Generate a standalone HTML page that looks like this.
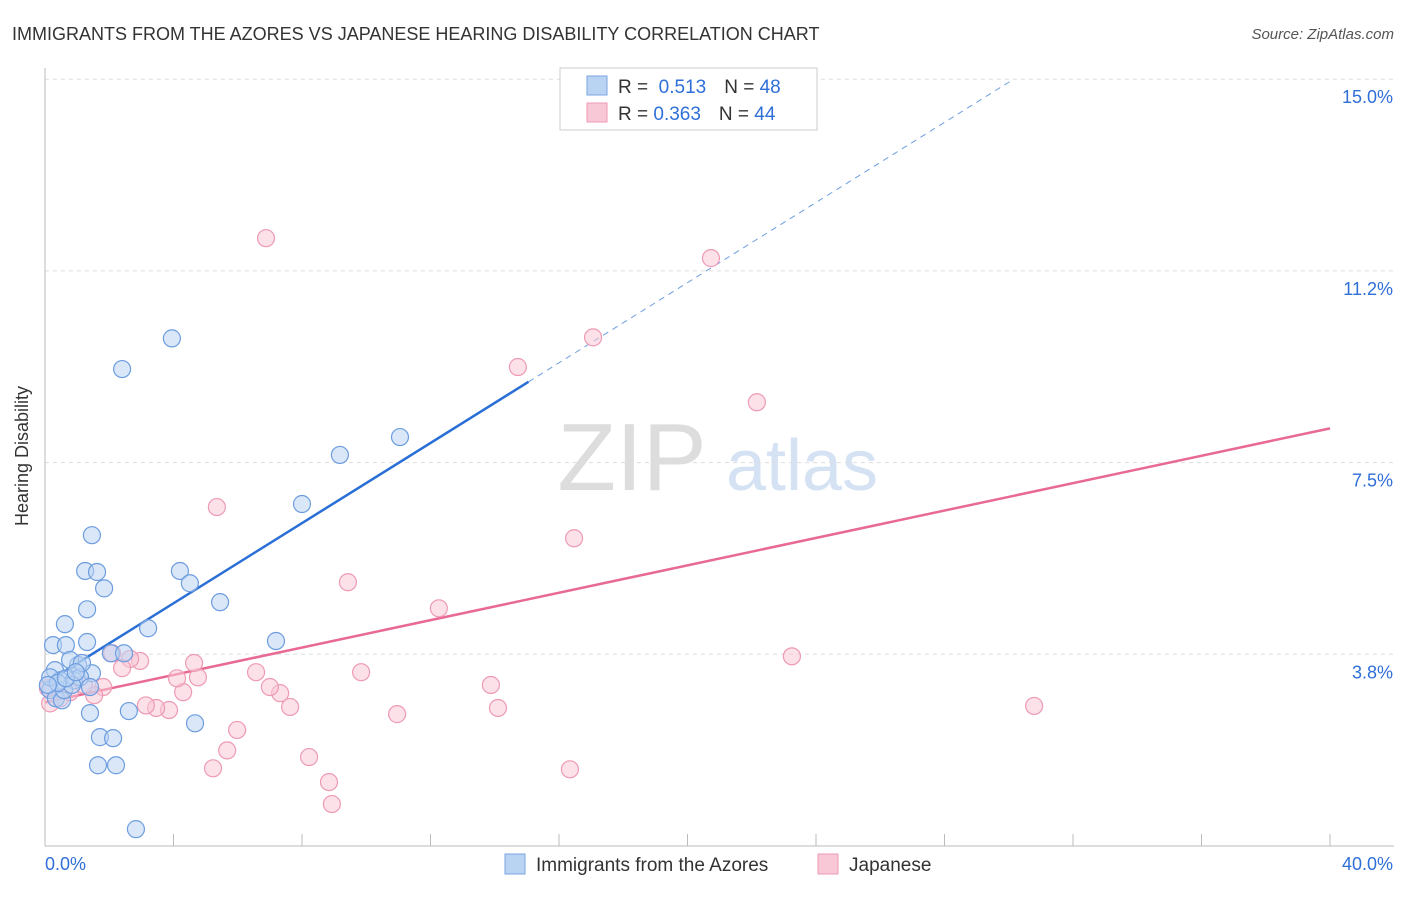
<!DOCTYPE html>
<html><head><meta charset="utf-8"><style>
body{margin:0;background:#fff;font-family:"Liberation Sans",sans-serif}
svg text{font-family:"Liberation Sans",sans-serif}
</style></head><body>
<svg id="chart" width="1406" height="892" viewBox="0 0 1406 892">
<text x="12" y="40" font-size="18" fill="#333">IMMIGRANTS FROM THE AZORES VS JAPANESE HEARING DISABILITY CORRELATION CHART</text>
<text x="1394" y="39" font-size="15" fill="#555" font-style="italic" text-anchor="end">Source: ZipAtlas.com</text>
<text x="28" y="456" font-size="18" fill="#333" text-anchor="middle" transform="rotate(-90 28 456)">Hearing Disability</text>
<g>
<text x="632" y="490" font-size="96" fill="#ddd" font-family="Liberation Serif,serif" text-anchor="middle">ZIP</text>
<text x="802" y="490" font-size="72" fill="#d4e2f4" text-anchor="middle">atlas</text>
</g>
<g id="grid"></g><g id="axes"></g><g id="trend"></g><g id="pts"></g>
<g>
<rect x="560" y="68" width="257" height="62" fill="#fff" stroke="#ccc"/>
<rect x="587" y="76" width="20" height="19" fill="#b9d3f3" stroke="#7ba6e0"/>
<rect x="587" y="103" width="20" height="19" fill="#f9c8d6" stroke="#ee9ab5"/>
<text x="618" y="93" font-size="19" fill="#333">R = <tspan fill="#2f6fd8">&#160;0.513</tspan><tspan dx="18">N = </tspan><tspan fill="#2f6fd8">48</tspan></text>
<text x="618" y="120" font-size="19" fill="#333">R = <tspan fill="#2f6fd8">0.363</tspan><tspan dx="18">N = </tspan><tspan fill="#2f6fd8">44</tspan></text>
</g>
<g>
<rect x="505" y="854" width="20" height="20" fill="#b9d3f3" stroke="#7ba6e0"/>
<text x="536" y="871" font-size="19" fill="#333">Immigrants from the Azores</text>
<rect x="818" y="854" width="20" height="20" fill="#f9c8d6" stroke="#ee9ab5"/>
<text x="849" y="871" font-size="19" fill="#333">Japanese</text>
</g>
</svg>
<script>
const yTicks=[3.75,7.5,11.25,15];
const yTickLabels=["3.8%","7.5%","11.2%","15.0%"];
const xMin=0,xMax=40;
const blueX=[0.25,0.62,0.65,1.31,1.46,1.25,1.62,1.84,1.31,2.40,3.95,4.20,4.51,5.45,3.21,7.19,8.00,9.18,11.05,2.05,2.46,1.46,1.03,0.78,0.31,0.47,0.16,0.34,0.53,0.90,1.09,1.40,1.65,2.21,1.71,2.12,1.40,2.61,4.67,2.83,0.59,0.84,0.16,1.15,0.40,0.65,0.96,0.09];
const blueY=[3.93,4.34,3.93,3.99,6.08,5.38,5.36,5.04,4.63,9.33,9.93,5.38,5.14,4.77,4.26,4.01,6.69,7.65,8.00,3.77,3.77,3.38,3.54,3.64,3.44,3.24,3.05,2.89,2.85,3.24,3.30,3.11,1.58,1.58,2.13,2.11,2.60,2.64,2.40,0.33,3.05,3.15,3.30,3.58,3.19,3.28,3.40,3.15];
const pinkX=[6.88,20.73,17.06,14.72,22.16,5.35,16.47,9.43,12.26,23.25,30.79,13.88,14.10,10.96,16.34,9.84,8.22,8.84,8.93,5.98,5.67,5.23,7.63,7.32,7.00,6.57,4.76,4.64,4.30,4.11,3.86,3.46,3.14,2.96,2.65,2.40,2.09,1.81,1.53,1.21,0.47,0.16,0.09,0.78];
const pinkY=[11.89,11.50,9.95,9.37,8.68,6.63,6.02,5.16,4.65,3.71,2.74,3.15,2.70,2.58,1.50,3.40,1.74,1.25,0.82,2.27,1.87,1.52,2.72,2.99,3.11,3.40,3.30,3.58,3.01,3.28,2.66,2.70,2.75,3.62,3.66,3.48,3.77,3.11,2.95,3.15,2.89,2.79,3.09,3.01];
const blueTrend=[3.18,0.392];
const pinkTrend=[2.81,0.134];
const NS="http://www.w3.org/2000/svg";
const X=v=>45+(v-xMin)/(xMax-xMin)*1285;
const Y=v=>846-v*51.12;
function mk(tag,attrs,parent){const e=document.createElementNS(NS,tag);for(const k in attrs)e.setAttribute(k,attrs[k]);document.getElementById(parent).appendChild(e);return e;}
yTicks.forEach((t,i)=>{
 const l=mk('line',{x1:45,x2:1394,y1:Y(t),y2:Y(t),stroke:'#ddd','stroke-dasharray':'4 4'},'grid');
 
 
 const tx=mk('text',{x:1393,y:Y(t)+24,'font-size':18,fill:'#2f6fd8','text-anchor':'end'},'grid');
 tx.textContent=yTickLabels[i];
 
 
});
const ax=mk('line',{x1:45,x2:45,y1:68,y2:846,stroke:'#bbb'},'axes');


const bx=mk('line',{x1:45,x2:1394,y1:846,y2:846,stroke:'#bbb'},'axes');


for(let v=0;v<=40;v+=4){const t=mk('line',{x1:X(v),x2:X(v),y1:834,y2:846,stroke:'#bbb'},'axes');
 
 }
const l0=mk('text',{x:45,y:870,'font-size':18,fill:'#2f6fd8'},'axes');l0.textContent='0.0%';


const l1=mk('text',{x:1393,y:870,'font-size':18,fill:'#2f6fd8','text-anchor':'end'},'axes');l1.textContent='40.0%';


function pts(xs,ys,fill,stroke,name){xs.forEach((x,i)=>{const c=mk('circle',{cx:X(x),cy:Y(ys[i]),r:8.5,fill:fill,'fill-opacity':0.55,stroke:stroke,'stroke-width':1.2},'pts');
 
 });}
pts(pinkX,pinkY,'#f9c8d6','#ee9ab5','japanese-point');
pts(blueX,blueY,'#b9d3f3','#6d9ddf','azores-point');
const bEnd=15.05, yEnd=blueTrend[0]+blueTrend[1]*bEnd, xTop=(15-blueTrend[0])/blueTrend[1];
const b1=mk('line',{x1:X(0),y1:Y(blueTrend[0]),x2:X(bEnd),y2:Y(yEnd),stroke:'#2a6fd6','stroke-width':2.5},'trend');


const b2=mk('line',{x1:X(bEnd),y1:Y(yEnd),x2:X(xTop),y2:Y(15),stroke:'#6d9ddf','stroke-width':1,'stroke-dasharray':'6 5'},'trend');


const p1=mk('line',{x1:X(0),y1:Y(pinkTrend[0]),x2:X(40),y2:Y(pinkTrend[0]+pinkTrend[1]*40),stroke:'#e86a93','stroke-width':2.5},'trend');


</script>
</body></html>
